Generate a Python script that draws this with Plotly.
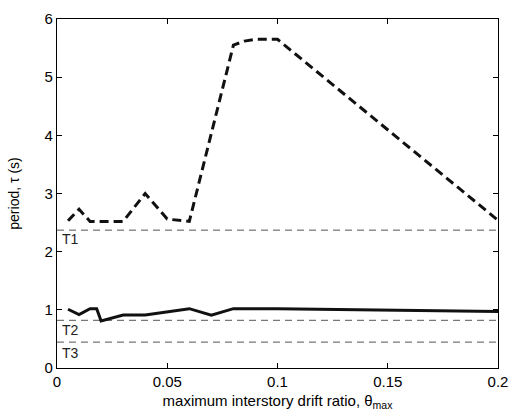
import plotly.graph_objects as go

# First-mode period vs. maximum interstory drift ratio (dashed)
drift_t1 = [0.005, 0.01, 0.015, 0.02, 0.03, 0.04, 0.05, 0.06, 0.08, 0.085, 0.09, 0.1, 0.2]
period_t1 = [2.53, 2.73, 2.52, 2.52, 2.52, 3.0, 2.56, 2.52, 5.55, 5.62, 5.65, 5.65, 2.54]

# Second-mode period vs. maximum interstory drift ratio (solid)
drift_t2 = [0.005, 0.01, 0.015, 0.018, 0.02, 0.03, 0.04, 0.06, 0.07, 0.08, 0.1, 0.2]
period_t2 = [1.01, 0.92, 1.02, 1.02, 0.81, 0.91, 0.91, 1.02, 0.91, 1.02, 1.02, 0.97]

# Elastic reference periods
ref_names = ["T1", "T2", "T3"]
ref_values = [2.37, 0.82, 0.445]
ref_label_y = [2.21, 0.66, 0.25]

x_ticks = [0, 0.05, 0.1, 0.15, 0.2]
x_tick_text = ["0", "0.05", "0.1", "0.15", "0.2"]
y_ticks = [0, 1, 2, 3, 4, 5, 6]

font_family = "Liberation Sans, Arial, sans-serif"

fig = go.Figure()

for v in ref_values:
    fig.add_trace(go.Scatter(
        x=[0, 0.2], y=[v, v], mode="lines",
        line=dict(color="#555555", width=1, dash="7px,5px"),
        showlegend=False, hoverinfo="skip"))

fig.add_trace(go.Scatter(
    x=drift_t1, y=period_t1, mode="lines",
    line=dict(color="#111111", width=3, dash="9px,5px"),
    showlegend=False))

fig.add_trace(go.Scatter(
    x=drift_t2, y=period_t2, mode="lines",
    line=dict(color="#111111", width=3),
    showlegend=False))

for name, yl in zip(ref_names, ref_label_y):
    fig.add_annotation(
        x=0.0015, y=yl, text=name, showarrow=False,
        xanchor="left", yanchor="middle",
        font=dict(family=font_family, size=14, color="#222222"))

axis_common = dict(
    showline=True, linecolor="black", linewidth=1.2, mirror="ticks",
    ticks="inside", ticklen=5, tickwidth=1, tickcolor="black",
    showgrid=False, zeroline=False,
    tickfont=dict(family=font_family, size=15, color="black"),
)

fig.update_xaxes(
    range=[0, 0.2], tickvals=x_ticks, ticktext=x_tick_text,
    title=dict(text="maximum interstory drift ratio, θ<sub>max</sub>",
               font=dict(family=font_family, size=15, color="black"),
               standoff=6),
    **axis_common)
fig.update_yaxes(
    range=[0, 6], tickvals=y_ticks,
    title=dict(text="period, τ (s)",
               font=dict(family=font_family, size=14, color="black"),
               standoff=21),
    **axis_common)

fig.update_layout(
    width=518, height=420,
    margin=dict(l=57, r=10, t=13, b=52),
    paper_bgcolor="white", plot_bgcolor="white",
)

fig.write_html("out.html")
